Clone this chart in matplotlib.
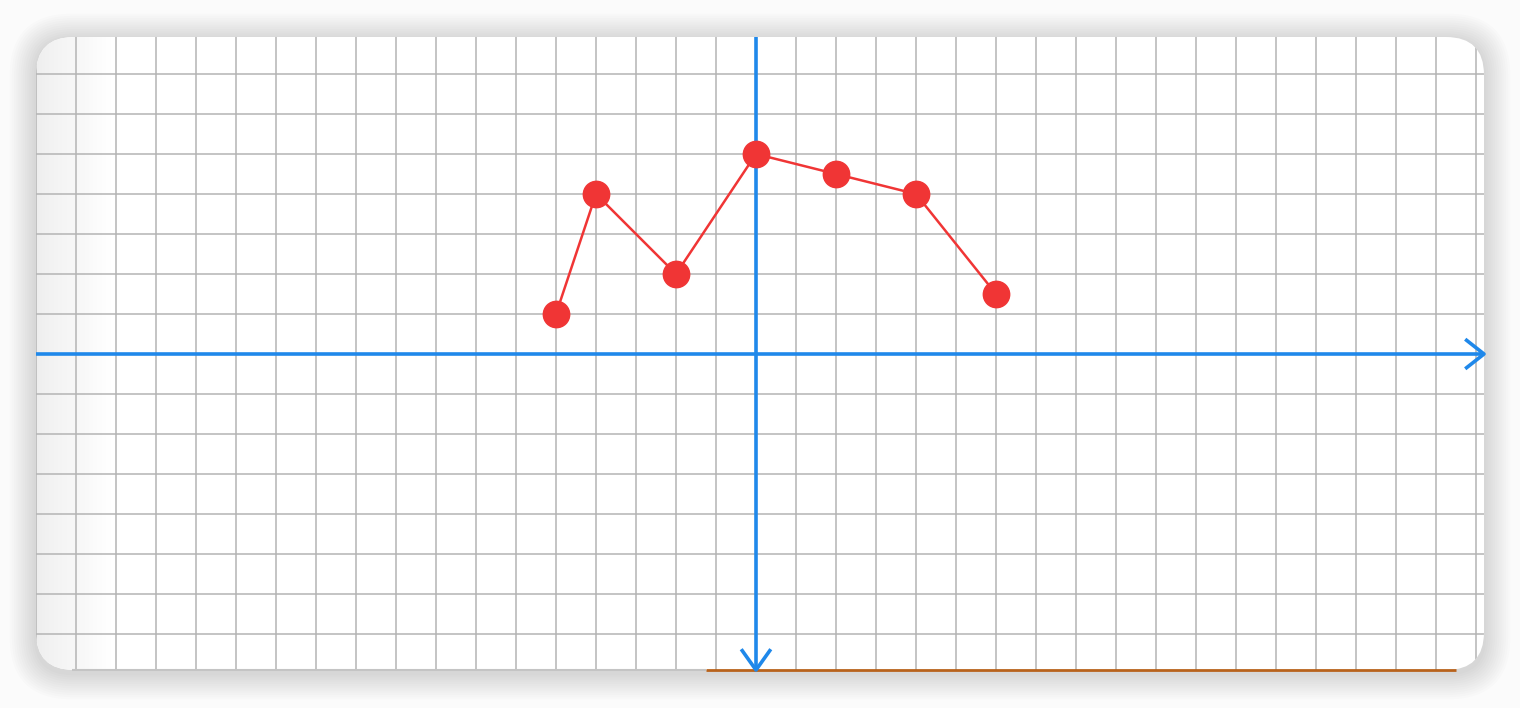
import numpy as np
import matplotlib.pyplot as plt
from matplotlib.patches import FancyBboxPatch

# ---------------- data (grid units, origin at axis cross) ----------------
xs = [-5, -4, -2, 0, 2, 4, 6]
ys = [1, 4, 2, 5, 4.5, 4, 1.5]

W, H = 1520, 708
px0, px1, py0, py1 = 36, 1484, 37, 670      # panel in pixels (top-left origin)
cell = 40.0
ox, oy = 756, 354                          # origin pixel

xmin, xmax = (px0 - ox) / cell, (px1 - ox) / cell
ymin, ymax = (oy - py1) / cell, (oy - py0) / cell

fig = plt.figure(figsize=(W / 100, H / 100), dpi=100)
fig.patch.set_facecolor('#fbfbfb')

# soft shadow around the panel
def fbox(x0, y0, x1, y1, r, **kw):
    return FancyBboxPatch((x0 / W, 1 - y1 / H), (x1 - x0) / W, (y1 - y0) / H,
                          boxstyle='round,pad=0,rounding_size=%f' % (r / W),
                          transform=fig.transFigure, mutation_aspect=W / H, **kw)

for k in range(12, 0, -1):
    fig.patches.append(fbox(px0 - 2.2 * k, py0 - 2.2 * k + 3, px1 + 2.2 * k, py1 + 2.2 * k + 3,
                            36 + 2.2 * k, facecolor='#000000', edgecolor='none',
                            alpha=0.010, zorder=-5))

ax = fig.add_axes([px0 / W, 1 - py1 / H, (px1 - px0) / W, (py1 - py0) / H])
ax.set_xlim(xmin, xmax)
ax.set_ylim(ymin, ymax)
ax.axis('off')

clip = FancyBboxPatch((xmin, ymin), xmax - xmin, ymax - ymin,
                      boxstyle='round,pad=0,rounding_size=0.95',
                      facecolor='white', edgecolor='none', zorder=0)
ax.add_patch(clip)

# left edge shading
grad = np.linspace(0, 1, 200)[None, :]
img = ax.imshow(1 - grad, extent=[xmin, xmin + 1.9, ymin, ymax], aspect='auto',
                cmap='Greys', vmin=0, vmax=7, alpha=0.9, zorder=1)
img.set_clip_path(clip)
ax.set_xlim(xmin, xmax)
ax.set_ylim(ymin, ymax)

# grid
for gx in np.arange(np.ceil(xmin), xmax + 0.01, 1):
    l, = ax.plot([gx, gx], [ymin, ymax], color='#b4b4b4', lw=1.1, zorder=2)
    l.set_clip_path(clip)
for gy in np.arange(np.ceil(ymin), ymax + 0.01, 1):
    l, = ax.plot([xmin, xmax], [gy, gy], color='#b4b4b4', lw=1.1, zorder=2)
    l.set_clip_path(clip)

# bottom edge
ax.plot([xmin + 0.9, -1.25], [ymin, ymin], color='#c4c4c4', lw=1.5, zorder=3,
        solid_capstyle='butt', clip_on=False)
ax.plot([-1.25, xmax - 0.7], [ymin, ymin], color='#b8621b', lw=2, zorder=3,
        solid_capstyle='butt', clip_on=False)

# axes with chevron arrows
blue = '#1f88ea'
ax.plot([xmin, xmax], [0, 0], color=blue, lw=2.6, zorder=4)
ax.plot([0, 0], [ymin, ymax], color=blue, lw=2.6, zorder=4)
ax.plot([xmax - 0.47, xmax, xmax - 0.47], [0.37, 0, -0.37], color=blue, lw=2.6,
        zorder=4, solid_capstyle='butt', clip_on=False)
ax.plot([-0.37, 0, 0.37], [ymin + 0.52, ymin, ymin + 0.52], color=blue, lw=2.6,
        zorder=4, solid_capstyle='butt', clip_on=False)

# series
ax.plot(xs, ys, color='#f03535', lw=1.8, marker='o', ms=19, mec='#f03535',
        mfc='#f03535', zorder=5)

fig.savefig('out.png', dpi=100, facecolor=fig.get_facecolor())
